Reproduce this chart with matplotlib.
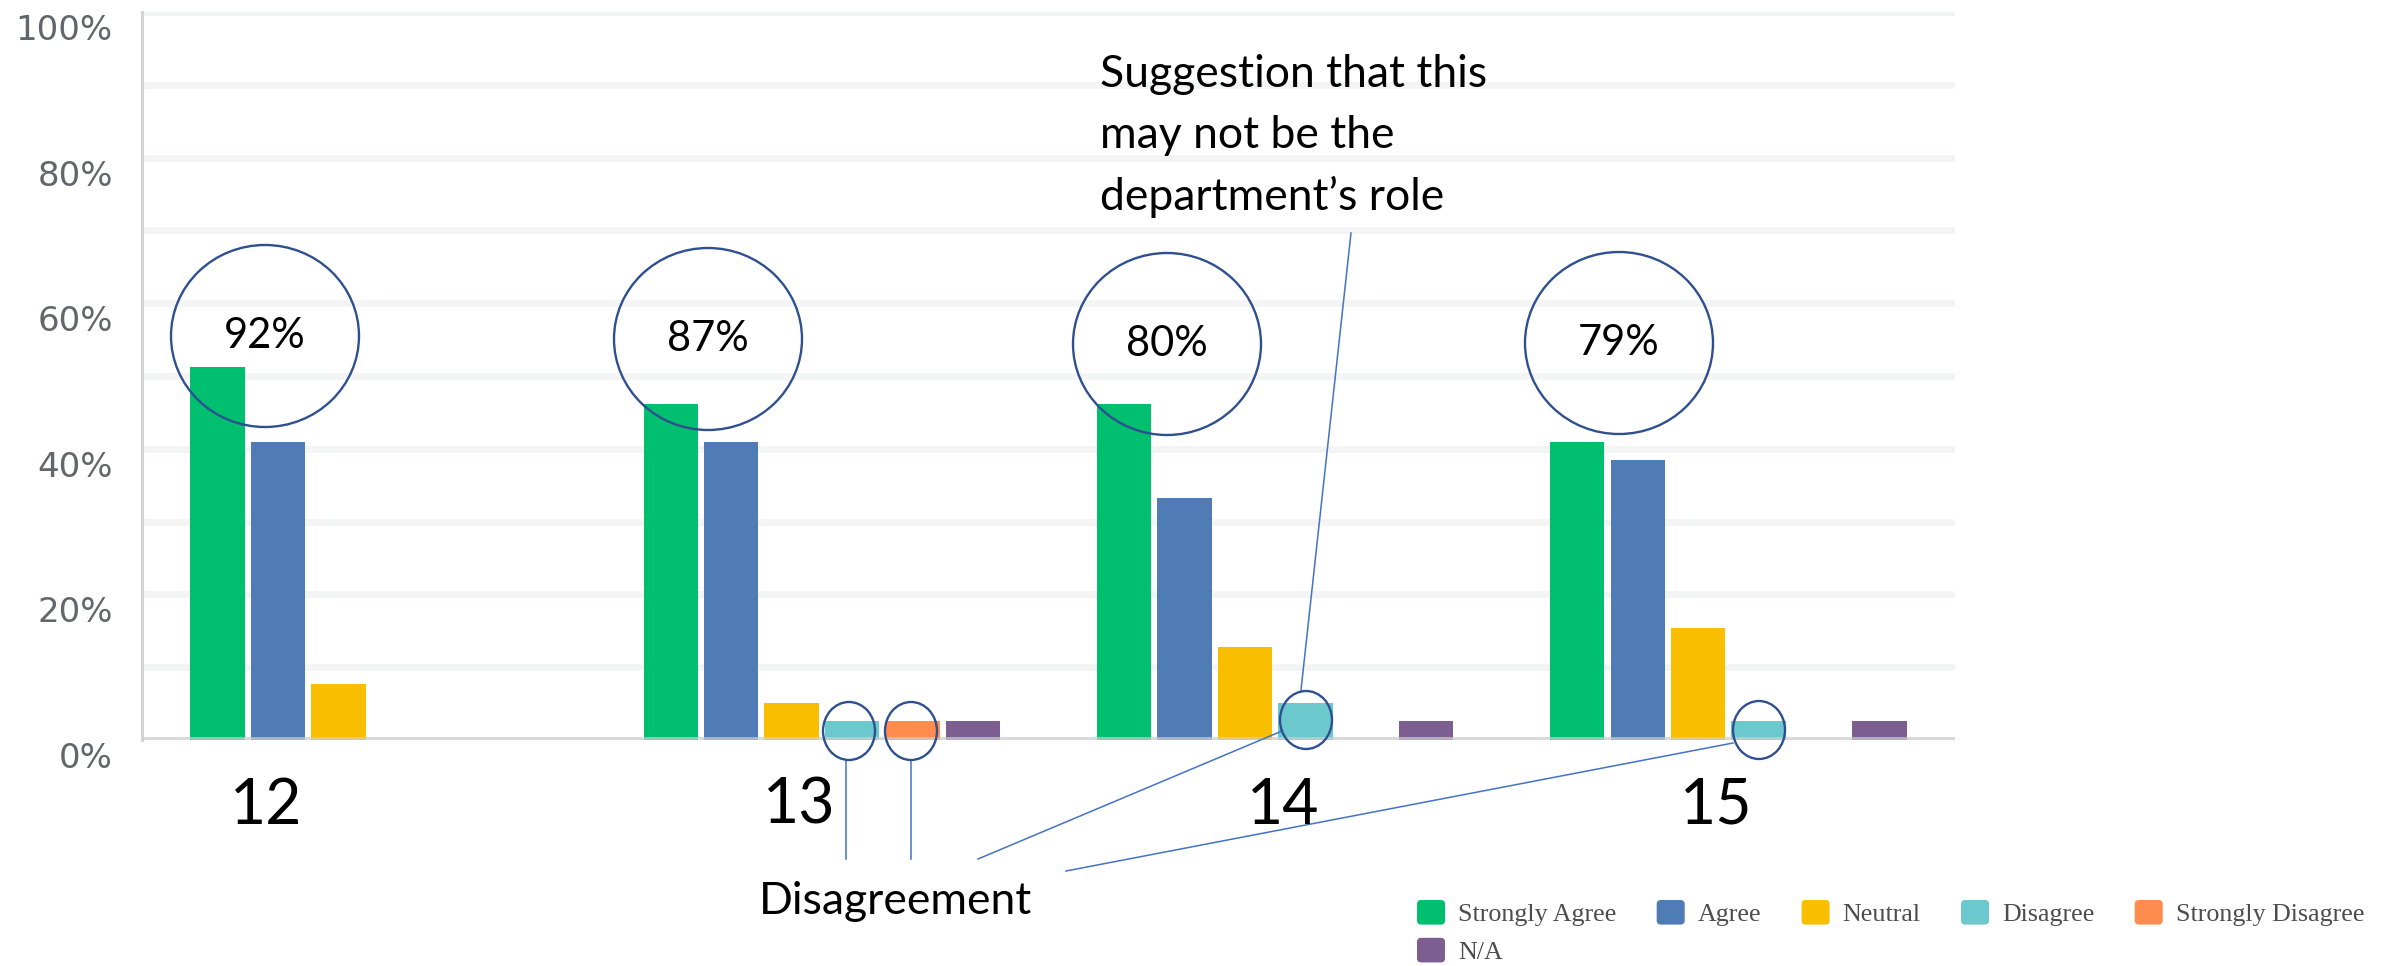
import matplotlib
matplotlib.use("Agg")
import matplotlib.pyplot as plt
import matplotlib.patches as mpatches
from matplotlib.legend_handler import HandlerPatch
from matplotlib.lines import Line2D
from matplotlib.transforms import ScaledTranslation
import numpy as np

W, H = 2392, 966

# Data (percent of respondents)
questions = ["12", "13", "14", "15"]
responses = ["Strongly Agree", "Agree", "Neutral", "Disagree", "Strongly Disagree", "N/A"]
colors = ["#00bf6f", "#507cb6", "#f9be00", "#6bc8cd", "#ff8b4f", "#7d5e90"]

strongly_agree = [51.3, 46.2, 46.2, 41.0]
agree = [41.0, 41.0, 33.3, 38.5]
neutral = [7.7, 5.1, 12.8, 15.4]
disagree = [0, 2.6, 5.1, 2.6]
strongly_disagree = [0, 2.6, 0, 0]
not_applicable = [0, 2.6, 2.6, 2.6]

agreement_labels = ["92%", "87%", "80%", "79%"]

series = [strongly_agree, agree, neutral, disagree, strongly_disagree, not_applicable]


def fx(x):
    return x / W


def fy(y):
    return 1 - y / H


fig = plt.figure(figsize=(W / 100, H / 100), dpi=100)
ax = fig.add_axes([fx(142), fy(740), (1955 - 142) / W, (740 - 12) / H])

# Bars (grouped like Chart.js: 80% of category, 90% of slot)
x = np.arange(len(questions))
slot = 0.8 / len(series)
for k, (vals, name, c) in enumerate(zip(series, responses, colors)):
    ax.bar(x + (k - 2.5) * slot, vals, width=slot * 0.9, color=c, label=name, zorder=2)

ax.set_xlim(-0.5, len(questions) - 0.5)
ax.set_ylim(0, 100)
ax.set_xticks([])
ax.set_yticks(range(0, 101, 10))
ax.set_yticklabels([f"{v}%" if v % 20 == 0 else "" for v in range(0, 101, 10)])
ax.tick_params(axis="y", length=0, pad=21, labelsize=24.5, labelcolor="#63666a")
for lab in ax.get_yticklabels():
    lab.set_fontfamily("DejaVu Sans")
    lab.set_transform(lab.get_transform() + ScaledTranslation(0, -0.15, fig.dpi_scale_trans))

ax.grid(axis="y", color="#f3f4f4", linewidth=4.8)
ax.set_axisbelow(True)
for s in ["top", "right", "bottom"]:
    ax.spines[s].set_visible(False)
ax.spines["left"].set_color("#d4d4d4")
ax.spines["left"].set_linewidth(2.2)
ax.axhline(0, color="#cfcfcf", alpha=0.7, linewidth=5, zorder=3)

# Category labels
label_font = ["Lato", "DejaVu Sans"]
label_x = [266, 799, 1283, 1716]
for q, px in zip(questions, label_x):
    fig.text(fx(px), fy(806), q, ha="center", va="center", fontsize=45,
             family=label_font, color="black")

# Callout circles with agreement totals
ring = "#2f5090"
big_circles = [(265, 336), (708, 339), (1167, 344), (1619, 343)]
for (cx, cy), txt in zip(big_circles, agreement_labels):
    fig.add_artist(mpatches.Ellipse((fx(cx), fy(cy)), 188 / W, 182 / H,
                                    fill=False, edgecolor=ring, linewidth=1.7))
    fig.text(fx(cx), fy(cy), txt, ha="center", va="center", fontsize=30,
             family=label_font, color="black")

small_circles = [(849, 731), (911, 731), (1306, 720), (1759, 730)]
for cx, cy in small_circles:
    fig.add_artist(mpatches.Ellipse((fx(cx), fy(cy)), 52 / W, 58 / H,
                                    fill=False, edgecolor=ring, linewidth=1.7, zorder=5))

# Connector lines
line_color = "#4472c4"
connectors = [
    ((846, 760), (846, 859)),
    ((911, 760), (911, 859)),
    ((978, 859), (1282, 731)),
    ((1066, 871), (1733, 743)),
    ((1351, 233), (1301, 690)),
]
for (x0, y0), (x1, y1) in connectors:
    fig.add_artist(Line2D([fx(x0), fx(x1)], [fy(y0), fy(y1)], color=line_color, linewidth=1.1))

fig.text(fx(896), fy(901), "Disagreement", ha="center", va="center", fontsize=32,
         family=label_font, color="black")
fig.text(fx(1100), fy(54), "Suggestion that this\nmay not be the\ndepartment\u2019s role",
         ha="left", va="top", fontsize=32, family=label_font, color="black", linespacing=1.6)


# Legend with rounded swatches
def rounded_swatch(legend, orig_handle, xdescent, ydescent, width, height, fontsize):
    r = 3
    return mpatches.FancyBboxPatch((-xdescent + r, -ydescent + r), width - 2 * r, height - 2 * r,
                                   boxstyle=f"round,pad={r}", facecolor=orig_handle.get_facecolor(),
                                   edgecolor="none")


handles, labels = ax.get_legend_handles_labels()
order = [0, 5, 1, 2, 3, 4]
fig.legend([handles[i][0] for i in order], [labels[i] for i in order],
           handler_map={mpatches.Rectangle: HandlerPatch(patch_func=rounded_swatch)},
           loc="upper left", bbox_to_anchor=(fx(1417), fy(900)), bbox_transform=fig.transFigure,
           ncol=5, frameon=False, borderpad=0, borderaxespad=0,
           handlelength=1.08, handleheight=1.08, handletextpad=0.5,
           columnspacing=1.55, labelspacing=0.45,
           prop={"family": "Liberation Serif", "size": 18.7}, labelcolor="#4d4d4d")

fig.savefig("out.png", dpi=100)
